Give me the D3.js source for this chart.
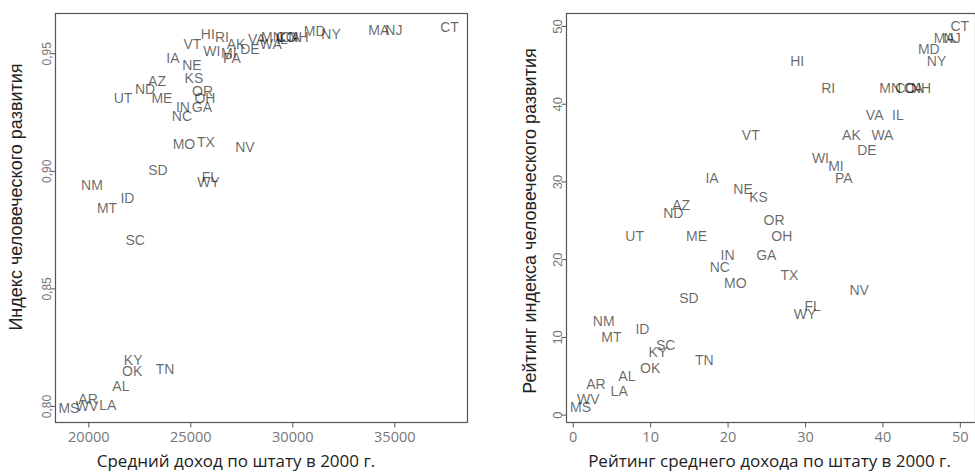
<!DOCTYPE html>
<html>
  <head>
    <meta charset="utf-8"/>
    <title>HDI vs income</title>
    <script src="https://cdnjs.cloudflare.com/ajax/libs/d3/7.8.5/d3.min.js"></script>
    <style>
      body { margin: 0; background: #fff; }
      .lbl { font-family: "Liberation Sans", Arial, sans-serif; font-size: 14px; fill: #000; fill-opacity: 0.6; }
      .tick text { fill: #777; }
      .xt text { font-family: "Open Sans", sans-serif; font-size: 14.5px; }
      .yt text { font-family: "Liberation Sans", Arial, sans-serif; }
      .tick line { stroke: #555; }
      .title { fill: #222; }
    </style>
  </head>
  <body>
    <script>

      var width = 975;
      var height = 472;

      // data
      var states = ["MS","WV","AR","NM","MT","LA","AL","UT","ID","OK",
                    "KY","SC","ND","AZ","SD","ME","TN","IA","NC","IN",
                    "MO","NE","VT","KS","GA","OR","OH","TX","HI","WY",
                    "FL","WI","RI","MI","PA","AK","NV","DE","VA","WA",
                    "MN","IL","CO","CA","NH","MD","NY","MA","NJ","CT"];
      var income = [19050,19940,19990,20180,20920,20960,21600,21700,21920,22150,
                    22200,22300,22780,23370,23415,23610,23760,24150,24590,24640,
                    24690,25080,25100,25180,25570,25600,25720,25770,25860,25900,
                    25960,26060,26550,26890,27040,27240,27680,27920,28260,28950,
                    29000,29500,29700,29900,30300,31100,31900,34240,34980,37710];
      var hdi = [0.799,0.800,0.803,0.894,0.884,0.8005,0.8086,0.931,0.8886,0.815,
                 0.8196,0.8706,0.9348,0.938,0.9004,0.931,0.8158,0.948,0.9233,0.927,
                 0.9114,0.945,0.954,0.9395,0.927,0.934,0.931,0.9123,0.958,0.8954,
                 0.8975,0.951,0.957,0.950,0.948,0.954,0.910,0.952,0.956,0.954,
                 0.957,0.956,0.957,0.957,0.957,0.9595,0.958,0.960,0.960,0.961];
      var incomeRank = [1,2,3,4,5,6,7,8,9,10,11,12,13,14,15,16,17,18,19,20,
                        21,22,23,24,25,26,27,28,29,30,31,32,33,34,35,36,37,38,39,40,
                        41,42,43,44,45,46,47,48,49,50];
      var hdiRank = [1,2,4,12,10,3,5,23,11,6,
                     8,9,26,27,15,23,7,30.5,19,20.5,
                     17,29,36,28,20.5,25,23,18,45.5,13,
                     14,33,42,32,30.5,36,16,34,38.5,36,
                     42,38.5,42,42,42,47,45.5,48.5,48.5,50];

      var incomeTicks = [20000, 25000, 30000, 35000];
      var hdiTicks = [0.80, 0.85, 0.90, 0.95];
      var rankTicks = [0, 10, 20, 30, 40, 50];

      var rows = states.map(function (s, i){
        return { st: s, inc: income[i], hdi: hdi[i], ri: incomeRank[i], rh: hdiRank[i] };
      });

      var svg = d3.select("body").append("svg")
        .attr("width", width)
        .attr("height", height);

      var comma = function (d){ return d3.format(".2f")(d).replace(".", ","); };

      function panel(opt){
        var x = d3.scaleLinear().domain(opt.xDomain).range([opt.left, opt.right]);
        var y = d3.scaleLinear().domain(opt.yDomain).range([opt.bottom, opt.top]);

        svg.append("rect")
          .attr("x", opt.left + 0.5).attr("y", opt.top + 0.5)
          .attr("width", opt.right - opt.left).attr("height", opt.bottom - opt.top)
          .attr("fill", "none").attr("stroke", "#555").attr("stroke-width", 1.2);

        var gx = svg.append("g").attr("class", "xt")
          .attr("transform", "translate(0," + (opt.bottom + 0.5) + ")")
          .call(d3.axisBottom(x).tickValues(opt.xTicks).tickSize(5).tickPadding(4).tickFormat(d3.format("d")));
        gx.select(".domain").remove();

        var gy = svg.append("g").attr("class", "yt")
          .attr("transform", "translate(" + (opt.left + 0.5) + ",0)")
          .call(d3.axisLeft(y).tickValues(opt.yTicks).tickSize(5).tickFormat(opt.yFormat));
        gy.select(".domain").remove();
        gy.selectAll(".tick text")
          .attr("font-size", opt.yTickSize)
          .attr("text-anchor", "middle")
          .attr("x", 0).attr("dy", 0)
          .attr("y", -5)
          .attr("transform", "rotate(-90)");

        svg.append("g").selectAll("text").data(rows).enter().append("text")
          .attr("class", "lbl")
          .attr("x", function (d){ return x(d[opt.xKey]); })
          .attr("y", function (d){ return y(d[opt.yKey]); })
          .attr("dy", "0.36em")
          .attr("text-anchor", "middle")
          .text(function (d){ return d.st; });

        svg.append("text").attr("class", "title")
          .attr("font-family", "'Open Sans', sans-serif")
          .attr("font-size", 17)
          .attr("x", (opt.left + opt.right) / 2 + opt.xTitleShift)
          .attr("y", 467)
          .attr("text-anchor", "middle")
          .text(opt.xTitle);

        svg.append("text").attr("class", "title")
          .attr("font-family", "'Liberation Sans', Arial, sans-serif")
          .attr("font-size", 18)
          .attr("transform", "translate(" + opt.yTitleX + "," + opt.yTitleY + ") rotate(-90)")
          .attr("text-anchor", "middle")
          .text(opt.yTitle);
      }

      panel({
        left: 55, right: 467, top: 13, bottom: 422,
        xDomain: [18368, 38564], yDomain: [0.7932, 0.9671],
        xTicks: incomeTicks, yTicks: hdiTicks, yFormat: comma, yTickSize: 12,
        xKey: "inc", yKey: "hdi",
        xTitle: "Средний доход по штату в 2000 г.", xTitleShift: -25,
        yTitle: "Индекс человеческого развития", yTitleX: 22, yTitleY: 197
      });

      panel({
        left: 566, right: 975, top: 13, bottom: 422,
        xDomain: [-0.87, 51.96], yDomain: [-0.95, 51.67],
        xTicks: rankTicks, yTicks: rankTicks, yFormat: d3.format("d"), yTickSize: 13,
        xKey: "ri", yKey: "rh",
        xTitle: "Рейтинг среднего дохода по штату в 2000 г.", xTitleShift: -1,
        yTitle: "Рейтинг индекса человеческого развития", yTitleX: 536, yTitleY: 221
      });

    </script>
  </body>
</html>
